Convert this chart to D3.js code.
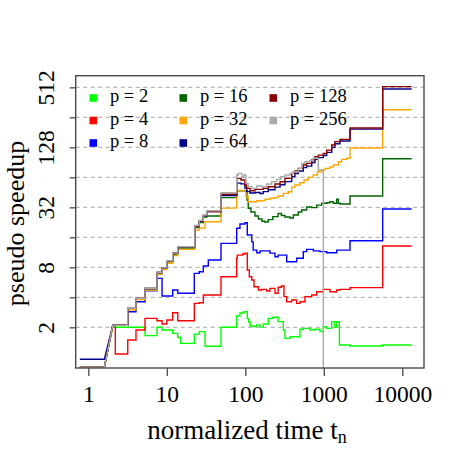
<!DOCTYPE html>
<html>
<head>
<meta charset="utf-8">
<script src="https://cdn.jsdelivr.net/npm/d3@7"></script>
<style>
  body { margin: 0; background: #fff; }
  text { font-family: "Liberation Serif", "DejaVu Serif", serif; fill: #000; }
</style>
</head>
<body>
<div id="chart"></div>
<script>
// chart values (t = normalized time, v = pseudo speedup)
const xTicks = [1, 10, 100, 1000, 10000];
const yTicks = [2, 4, 8, 16, 32, 64, 128, 256, 512];
const yLabels = [2, 8, 32, 128, 512];
const rampStart = 1.6; // segment after this time is a straight ramp, not a step

const p2 = [[0.78,0.79],[1.6,0.79],[2.05,2.0],[5.28,1.65],[7.5,2.0],[8.7,1.88],[11.9,1.74],[13.8,1.59],[15,1.38],
  [22.4,1.71],[25.9,1.81],[30.7,1.29],[49,2.0],[77.7,2.6],[85.5,2.78],[96,2.87],[106,2.46],[110,2.26],[115,2.06],
  [126,2.04],[140,2.11],[154,2.01],[170,2.16],[196,2.46],[224,2.52],[262,2.28],[305,1.88],[320,1.55],[371,1.61],
  [497,1.91],[548,1.95],[666,1.88],[771,1.91],[893,1.81],[986,2.03],[1089,1.95],[1261,2.28],[1386,2.0],[1459,2.28],
  [1580,1.33],[2157,1.3],[5623,1.33],[13170,1.33]];
const p4 = [[0.78,0.79],[1.6,0.79],[2.05,2.1],[2.21,1.08],[3.18,1.49],[4.05,1.88],[5.28,2.46],[7.5,2.33],[8.7,2.16],
  [10,2.37],[11.9,2.8],[13.8,2.33],[22.4,3.48],[25.9,3.53],[29.2,4.22],[49,6.44],[77.7,9.85],[79,10.6],[92.6,10.9],[99,11.1],
  [106,7.52],[112.5,6.44],[121,5.97],[129,5.11],[147,4.73],[163,4.81],[187,4.63],[206,4.92],[239,4.39],[262,5.04],
  [288,5.19],[311,4.06],[337,3.61],[390,3.76],[451,3.48],[497,3.61],[575,4.06],[701,4.22],[811,4.55],[986,4.81],
  [1197,4.55],[1459,4.73],[1606,4.81],[2157,5.0],[5623,13.1],[13170,13.1]];
const p8 = [[0.78,0.79],[1.6,0.79],[2.05,2.1],[3.18,2.87],[4.05,3.61],[5.28,4.66],[7.5,6.2],[8.7,4.12],[11.9,4.73],
  [13.8,4.39],[22.4,6.96],[25.9,7.22],[29.2,8.24],[33.8,9.47],[49,13.9],[77.7,19.7],[85.5,21.8],[99,22.4],[106,16.9],
  [121,14.4],[126,11.9],[140,11.2],[154,11.7],[206,11.1],[239,10.2],[262,10.6],[337,9.1],[451,9.85],[548,11.5],
  [605,12.1],[735,11.7],[893,11.5],[1089,11.2],[1459,11.9],[2157,14.8],[5623,30.8],[13170,30.8]];
const p16 = [[0.78,0.79],[1.6,0.79],[2.05,2.1],[3.18,3.05],[4.05,3.85],[5.28,4.85],[7.5,7.0],[8.7,7.8],[10,9.1],
  [11.9,10.8],[13.8,12.5],[22.8,20],[25.9,22.5],[29.2,25.5],[32.2,26.2],[49,40],[77.7,47],[105,37.9],[109,31.3],
  [118,28.7],[132.8,26.2],[147,24.4],[163,23.2],[178,22.8],[196,24.1],[224,25.8],[262,27.7],[288,26.5],[320,25.6],
  [371,25],[409,26.8],[473,28.7],[523,30.1],[605,32.2],[701,31.8],[811,33.7],[940,35.1],[1089,35.6],[1197,36.4],
  [1320,35.1],[1459,38.5],[1530,35.1],[1606,34.5],[2157,41.5],[5623,98.4],[13170,98.4]];
const p32 = [[0.78,0.79],[1.6,0.79],[2.05,2.1],[3.18,3.0],[4.05,3.8],[5.28,4.7],[7.5,6.8],[8.7,7.6],[10,8.8],
  [11.9,10.5],[13.8,12.1],[22.8,18.9],[25.9,19.8],[30.7,22.9],[49,31.4],[77.7,47.2],[102,40.9],[109,36.4],[140,37.3],
  [178,38.5],[206,39.4],[239,40.3],[262,41.5],[305,44.2],[353,45.9],[390,50.8],[429,53.6],[497,56.5],[560,60.1],
  [632,64],[735,67.5],[830,72.9],[940,75.7],[1034,78.8],[1197,81.2],[1320,85],[1530,91.8],[1690,97],[1950,99.3],
  [2157,126],[5623,305],[13170,305]];
const p64 = [[0.78,0.955],[1.6,0.955],[2.05,2.1],[3.18,3.1],[4.05,3.9],[5.28,4.9],[7.5,7.1],[8.7,7.9],[10,9.3],
  [11.9,11.1],[13.8,12.9],[22.8,20.6],[25.9,23.2],[29.2,26.3],[32.2,29],[49,42],[77.7,56],[88.2,55],[99,50],[104,46],
  [114.7,44.5],[132.8,45],[153.8,44],[169,46],[196,48],[239,51],[277,54],[320,58],[390,65],[429,70],[473,74],
  [548,80],[605,83],[701,90],[771,97],[851,101],[986,106],[1089,114],[1261,128],[1386,139],[1606,148],[2157,195],
  [5623,492],[13170,492]];
const p128 = [[0.78,0.79],[1.6,0.79],[2.05,2.1],[3.18,3.1],[4.05,3.9],[5.28,4.9],[7.5,7.1],[8.7,7.9],[10,9.3],
  [11.9,11.1],[13.8,12.9],[22.8,20.8],[25.9,23.4],[29.2,26.5],[32.2,29],[49,43.3],[77.7,62.5],[88.2,60.1],[99,53.6],
  [104,49.6],[114.7,47],[132.8,48.5],[169,49.6],[196,51.5],[239,54.8],[277,57.8],[320,62.5],[390,70.2],[429,74],
  [473,78.8],[548,85],[605,88.4],[701,95.5],[771,103],[851,107],[986,111],[1089,120],[1261,135],[1386,146],
  [1606,154],[2157,200],[5623,521],[13170,521]];
const p256 = [[0.78,0.79],[1.6,0.79],[2.05,2.1],[3.18,3.1],[4.05,3.9],[5.28,4.9],[7.5,7.1],[8.7,7.9],[10,9.3],
  [11.9,11.1],[13.8,12.9],[22.8,21],[25.9,23.6],[29.2,26.8],[32.2,29.6],[49,44.8],[77.7,67.5],[81.5,70.2],[90.8,64.9],
  [96.2,67.5],[102,55.7],[109,51.5],[121,49.6],[140,52.3],[162,51.5],[187,54.8],[217,57.8],[251,61.1],[283,64.9],
  [320,67.5],[371,70.2],[409,72.9],[473,78.8],[523,88.4],[575,91.8],[666,94.3],[735,99.3],[851,75.7],[986,0.3]];

const seriesNames = ["p = 2", "p = 4", "p = 8", "p = 16", "p = 32", "p = 64", "p = 128", "p = 256"];
const seriesData = [p2, p4, p8, p16, p32, p64, p128, p256];
const seriesColors = ["#00ff00", "#ff0000", "#0000ff", "#006400", "#ffa500", "#00008b", "#8b0000", "#a9a9a9"];

const W = 463, H = 463;
const plotL = 75.7, plotR = 424, plotT = 75.7, plotB = 368;

const svg = d3.select("#chart").append("svg")
  .attr("width", W).attr("height", H);

const x = d3.scaleLog().domain([0.691, 18900]).range([plotL, plotR]);
const y = d3.scaleLog().base(2).domain([0.781, 670]).range([plotB, plotT]);

// dashed grid
svg.append("g").selectAll("line").data(yTicks).join("line")
  .attr("x1", plotL).attr("x2", plotR)
  .attr("y1", d => y(d)).attr("y2", d => y(d))
  .attr("stroke", "#b8b8b8").attr("stroke-width", 1.2)
  .attr("stroke-dasharray", "4,3.5");

// step lines
svg.append("clipPath").attr("id", "plotclip")
  .append("rect").attr("x", plotL).attr("y", plotT)
  .attr("width", plotR - plotL).attr("height", plotB - plotT);

function toSteps(pts) {
  const out = [pts[0]];
  for (let i = 1; i < pts.length; i++) {
    const prev = pts[i - 1], cur = pts[i];
    if (prev[0] !== rampStart) out.push([cur[0], prev[1]]);
    out.push(cur);
  }
  return out;
}

const line = d3.line().x(d => x(d[0])).y(d => y(d[1]));

svg.append("g").attr("clip-path", "url(#plotclip)")
  .selectAll("path").data(seriesData).join("path")
  .attr("d", d => line(toSteps(d)))
  .attr("fill", "none")
  .attr("stroke", (d, i) => seriesColors[i])
  .attr("stroke-width", 1.4)
  .attr("stroke-linejoin", "miter");

// box
svg.append("rect")
  .attr("x", plotL).attr("y", plotT)
  .attr("width", plotR - plotL).attr("height", plotB - plotT)
  .attr("fill", "none").attr("stroke", "#4a4a4a").attr("stroke-width", 1.4);

// x axis
const xAxis = svg.append("g").attr("transform", `translate(0,${plotB})`)
  .call(d3.axisBottom(x).tickValues(xTicks).tickSize(8).tickSizeOuter(0).tickFormat(d3.format("d")));
xAxis.select(".domain").remove();
xAxis.selectAll(".tick line").attr("stroke", "#4a4a4a").attr("stroke-width", 1.3);
xAxis.selectAll(".tick text")
  .attr("y", 34).attr("dy", 0)
  .style("font-family", "Liberation Serif").style("font-size", "23.5px").attr("fill", "#000");

// y axis
const yAxis = svg.append("g").attr("transform", `translate(${plotL},0)`)
  .call(d3.axisLeft(y).tickValues(yTicks).tickSize(6).tickSizeOuter(0)
    .tickFormat(d => yLabels.includes(d) ? d : ""));
yAxis.select(".domain").remove();
yAxis.selectAll(".tick line").attr("stroke", "#4a4a4a").attr("stroke-width", 1.3);
yAxis.selectAll(".tick text")
  .attr("x", 0).attr("dy", 0)
  .attr("text-anchor", "middle")
  .attr("transform", `translate(${54 - plotL},0) rotate(-90)`)
  .style("font-family", "Liberation Serif").style("font-size", "23.5px").attr("fill", "#000");

// axis titles
const xt = svg.append("text")
  .attr("x", 247).attr("y", 439)
  .attr("text-anchor", "middle")
  .style("font-size", "27px");
xt.append("tspan").text("normalized time t");
xt.append("tspan").text("n").style("font-size", "18px").attr("dy", 4);

svg.append("text")
  .attr("transform", "translate(24,223.5) rotate(-90)")
  .attr("text-anchor", "middle")
  .style("font-size", "26px")
  .text("pseudo speedup");

// legend
const legend = svg.append("g").selectAll("g").data(seriesNames).join("g")
  .attr("transform", (d, i) => `translate(${93.3 + Math.floor(i / 3) * 90},${98 + (i % 3) * 22.5})`);
legend.append("rect")
  .attr("x", -3.8).attr("y", -3.8).attr("width", 7.6).attr("height", 7.6)
  .attr("fill", (d, i) => seriesColors[i]);
legend.append("text")
  .attr("x", 16.7).attr("y", 4)
  .style("font-size", "18.5px")
  .text(d => d);
</script>
</body>
</html>
